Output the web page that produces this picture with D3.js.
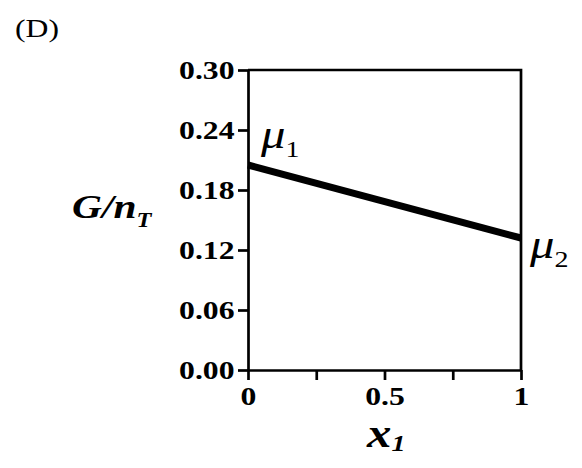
<!DOCTYPE html>
<html>
<head>
<meta charset="UTF-8">
<title>G/nT vs x1</title>
<script src="https://d3js.org/d3.v7.min.js"></script>
<style>
    body { margin: 0; background: #fff; }
    text { font-family: "Liberation Serif", "Times New Roman", serif; fill: #000; }
</style>
</head>
<body>
<script>
    // data
    const xVals = [0, 1];
    const gVals = [0.205, 0.132];
    const yTicks = [0, 0.06, 0.12, 0.18, 0.24, 0.30];
    const xTicks = [0, 0.25, 0.5, 0.75, 1];
    const xTickLabels = {0: "0", 0.5: "0.5", 1: "1"};

    const width = 582, height = 468;
    const plotLeft = 248, plotRight = 521, plotTop = 70, plotBottom = 370;
    const sx = 1.22; // the original figure's text is stretched sideways

    const svg = d3.select("body").append("svg")
        .attr("width", width).attr("height", height);

    const x = d3.scaleLinear().domain([0, 1]).range([plotLeft, plotRight]);
    const y = d3.scaleLinear().domain([0, 0.30]).range([plotBottom, plotTop]);

    // y axis
    const gy = svg.append("g")
        .attr("transform", `translate(${plotLeft},0)`)
        .call(d3.axisLeft(y).tickValues(yTicks).tickSize(10).tickSizeOuter(0).tickPadding(1)
            .tickFormat(d3.format(".2f")));
    // x axis
    const gx = svg.append("g")
        .attr("transform", `translate(0,${plotBottom})`)
        .call(d3.axisBottom(x).tickValues(xTicks).tickSize(10).tickSizeOuter(0).tickPadding(7)
            .tickFormat(d => xTickLabels[d] || ""));

    [gx, gy].forEach(g => {
        g.selectAll("path, line").attr("stroke", "#000").attr("stroke-width", 2.7);
        g.selectAll("text").attr("font-size", 26).attr("font-weight", "bold")
            .attr("transform", `scale(${sx},1)`)
            .style("font-family", "'Liberation Serif', serif");
    });
    gx.selectAll("text").attr("x", 0);

    // frame top + right
    svg.append("path")
        .attr("d", `M${x(0)},${y(0.30)}H${x(1)}V${y(0)}`)
        .attr("fill", "none").attr("stroke", "#000").attr("stroke-width", 2.7);

    // G/nT line
    const line = d3.line().x((d, i) => x(xVals[i])).y(d => y(d));
    svg.append("path").datum(gVals)
        .attr("d", line)
        .attr("fill", "none").attr("stroke", "#000").attr("stroke-width", 7);

    // text helper: placed at (px,py), stretched like the source
    function label(px, py, size) {
        return svg.append("g").attr("transform", `translate(${px},${py}) scale(${sx},1)`)
            .append("text").attr("font-size", size);
    }

    label(15, 37, 26).text("(D)");

    const yl = label(72, 218, 34).attr("font-weight", "bold").attr("font-style", "italic");
    yl.append("tspan").text("G/n");
    yl.append("tspan").attr("font-size", 20).attr("dy", 9).text("T");

    const xl = label(367, 447, 40).attr("font-weight", "bold").attr("font-style", "italic");
    xl.append("tspan").text("x");
    xl.append("tspan").attr("font-size", 23).attr("dy", 4).text("1");

    const m1 = label(x(0) + 13, y(gVals[0]) - 17, 40).attr("font-style", "italic");
    m1.append("tspan").text("μ");
    m1.append("tspan").attr("font-size", 23).attr("font-style", "normal").attr("dy", 9).text("1");

    const m2 = label(x(1) + 9, y(gVals[1]) + 20, 40).attr("font-style", "italic");
    m2.append("tspan").text("μ");
    m2.append("tspan").attr("font-size", 23).attr("font-style", "normal").attr("dy", 9).text("2");
</script>
</body>
</html>
